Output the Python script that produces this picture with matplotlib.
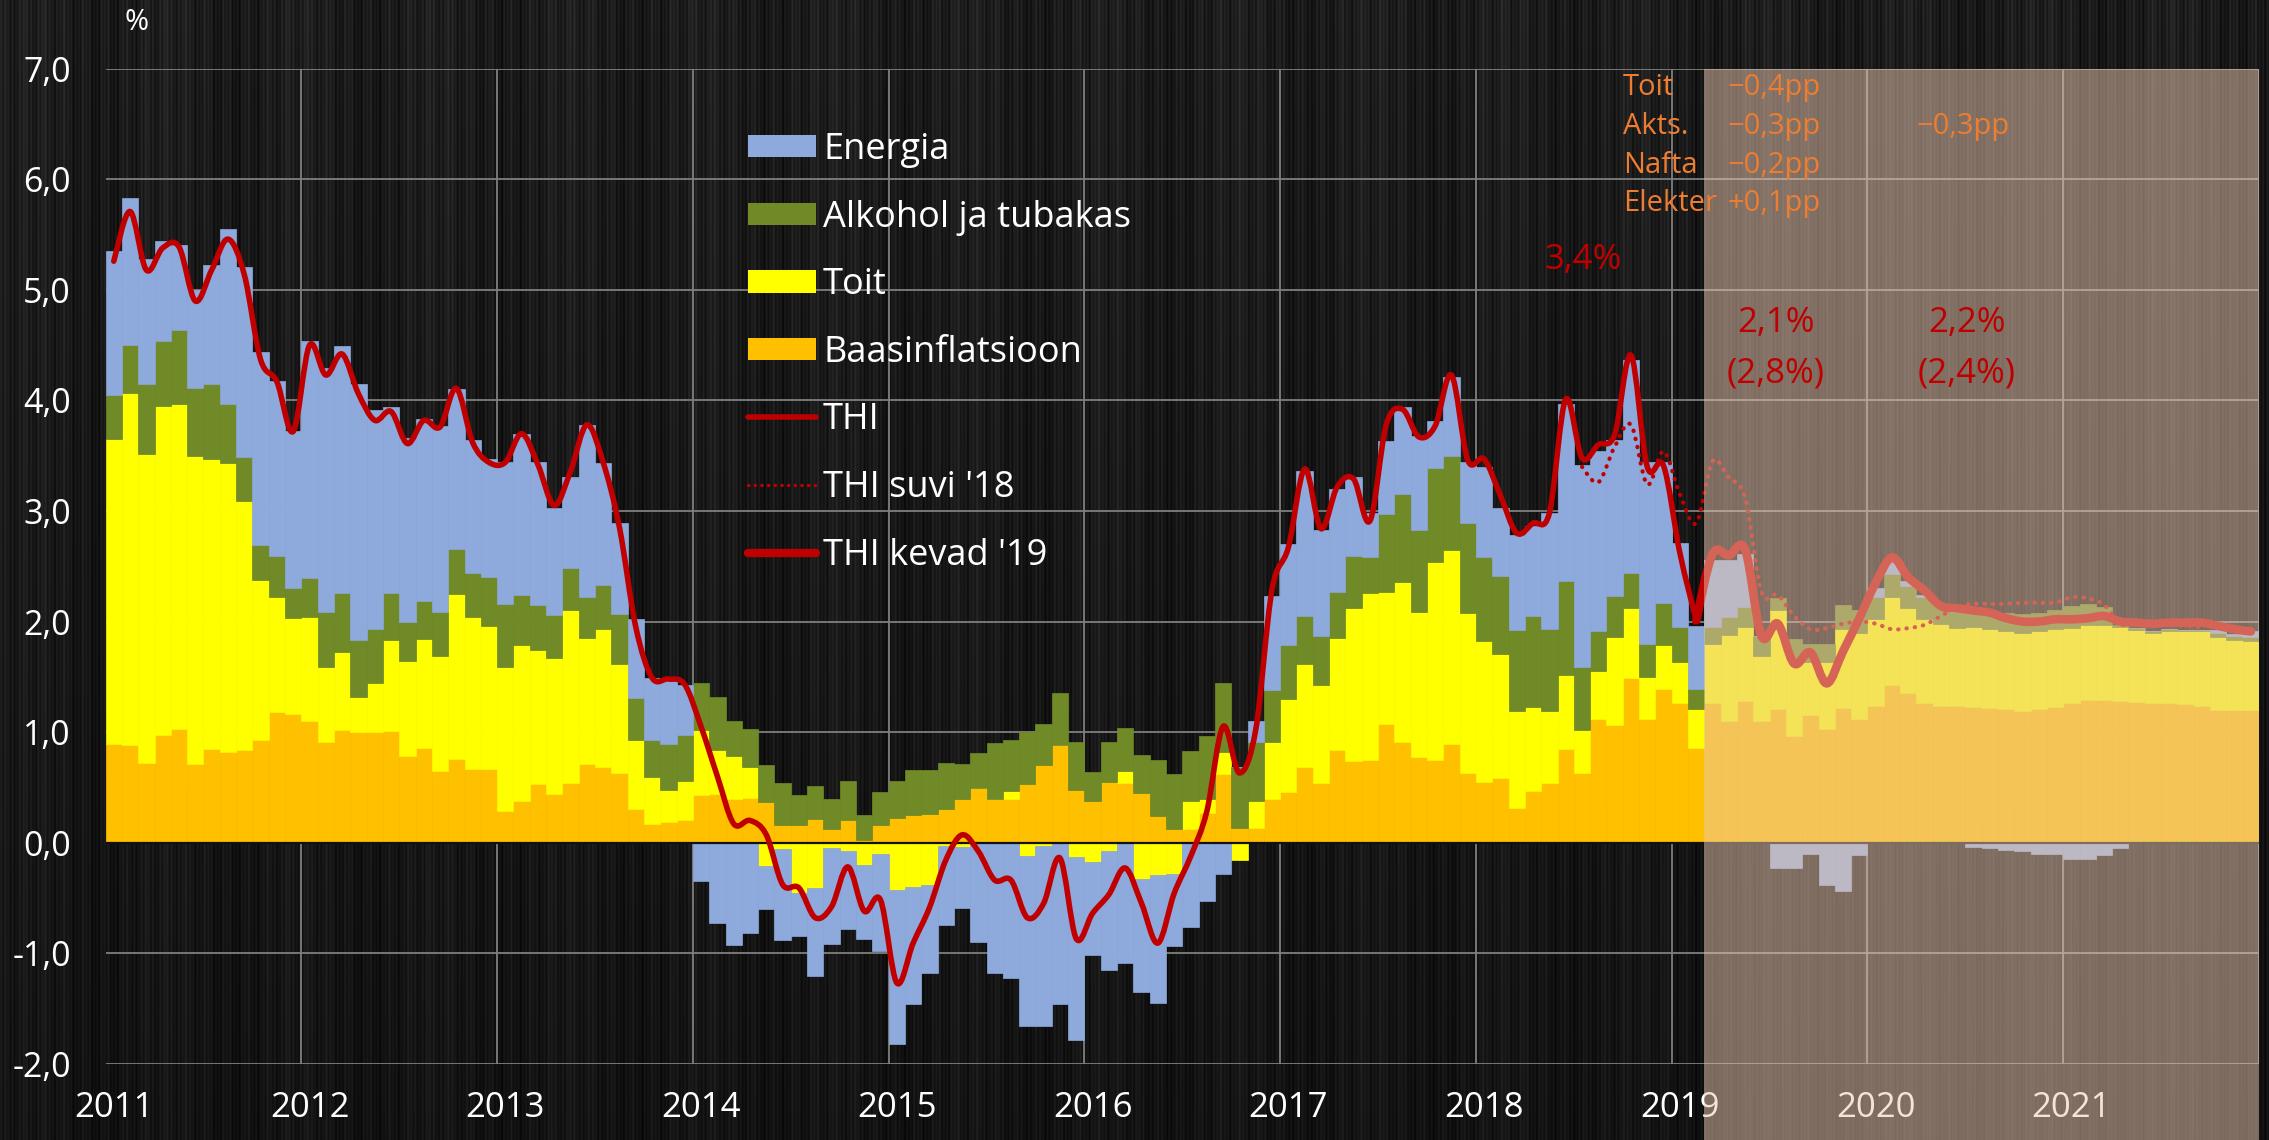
import numpy as np
import matplotlib
matplotlib.use("Agg")
import matplotlib.pyplot as plt
from matplotlib.path import Path
from matplotlib.patches import PathPatch, Patch, Rectangle
from matplotlib.lines import Line2D
from matplotlib import transforms

plt.rcParams['font.family'] = ['Open Sans', 'DejaVu Sans']

# monthly data, Jan 2011 .. Dec 2021 (132 months)
years = ['2011', '2012', '2013', '2014', '2015', '2016', '2017', '2018', '2019', '2020', '2021']
ytick_labels = ['-2,0', '-1,0', '0,0', '1,0', '2,0', '3,0', '4,0', '5,0', '6,0', '7,0']

base = [
    .89, .88, .72, .97, 1.03, .71, .85, .82, .84, .93, 1.18, 1.16,
    1.10, .91, 1.02, 1.00, 1.00, 1.01, .78, .86, .65, .76, .67, .67,
    .29, .38, .53, .44, .54, .71, .68, .63, .30, .17, .19, .20,
    .43, .44, .39, .40, .37, .16, .16, .21, .12, .20, .02, .16,
    .22, .25, .26, .30, .39, .49, .39, .39, .53, .70, .88, .48,
    .38, .55, .54, .45, .24, .12, .12, .27, .62, .13, .13, .39,
    .46, .68, .54, .84, .74, .75, 1.07, .91, .77, .75, .89, .63,
    .55, .58, .31, .47, .54, .85, .63, 1.12, 1.06, 1.49, 1.12, 1.39,
    1.26, .86, 1.26, 1.10, 1.28, 1.10, 1.21, .96, 1.15, 1.03, 1.22, 1.12,
    1.24, 1.43, 1.35, 1.26, 1.24, 1.24, 1.23, 1.22, 1.21, 1.19, 1.21, 1.23,
    1.26, 1.29, 1.29, 1.28, 1.27, 1.26, 1.26, 1.25, 1.24, 1.20, 1.20, 1.20,
]
food = [
    2.76, 3.19, 2.80, 2.98, 2.94, 2.79, 2.62, 2.61, 2.25, 1.45, 1.04, .87,
    .94, .68, .70, .32, .44, .82, .86, .98, 1.04, 1.49, 1.37, 1.29,
    1.30, 1.41, 1.21, 1.23, 1.56, 1.14, 1.25, .99, .63, .42, .29, .36,
    .59, .40, .39, .28, -.21, -.06, -.46, -.41, -.05, -.08, -.20, -.10,
    -.43, -.40, -.38, -.03, -.04, 0, 0, .08, -.12, -.03, 0, -.13,
    -.18, -.08, .11, -.33, -.29, -.28, .26, .12, .20, -.16, .25, .52,
    .84, .94, .89, 1.01, 1.38, 1.51, 1.20, 1.45, 1.32, 1.79, 1.76, 1.45,
    1.27, 1.13, .88, .76, .65, .67, .39, .43, .80, .63, .38, .40,
    .37, .35, .54, .78, .67, .59, .89, .71, .48, .60, .71, .78,
    .78, .79, .77, .76, .74, .70, .72, .71, .70, .71, .70, .70,
    .68, .68, .68, .67, .65, .64, .65, .66, .67, .66, .63, .62,
]
alcohol = [
    .40, .43, .63, .59, .67, .61, .68, .54, .40, .31, .37, .27,
    .35, .50, .54, .51, .49, .43, .36, .35, .40, .41, .40, .44,
    .57, .45, .41, .39, .38, .37, .40, .45, .38, .34, .41, .41,
    .42, .48, .32, .35, .33, .38, .27, .30, .27, .36, .23, .30,
    .34, .41, .40, .42, .32, .32, .51, .46, .47, .37, .47, .43,
    .26, .36, .39, .34, .51, .50, .45, .57, .62, .55, .53, .47,
    .49, .43, .44, .42, .47, .32, .70, .79, .74, .85, .85, .81,
    .76, .70, .73, .82, .74, .85, .57, .36, .37, .32, .30, .38,
    .32, .18, .15, .16, .18, .18, .11, .17, .17, .17, .22, .20,
    .20, .21, .20, .20, .17, .15, .14, .15, .17, .17, .17, .17,
    .20, .19, .16, .02, .02, .01, .02, .01, .01, .04, .04, .04,
]
energy = [
    1.30, 1.33, 1.13, .90, .77, .89, 1.08, 1.58, 1.72, 1.75, 1.59, 1.42,
    2.15, 2.20, 2.23, 2.32, 1.98, 1.68, 1.66, 1.64, 1.68, 1.44, 1.20, 1.07,
    1.28, 1.46, 1.29, .97, .83, 1.56, 1.10, .82, .71, .56, .60, .46,
    -.35, -.73, -.93, -.82, -.39, -.82, -.39, -.80, -.87, -.70, -.67, -.88,
    -1.39, -1.06, -.80, -.72, -.55, -.90, -1.18, -1.23, -1.54, -1.63, -1.46, -1.66,
    -.84, -1.07, -1.09, -1.02, -1.16, -.66, -.76, -.53, -.28, 0, .19, .85,
    .91, 1.31, .96, .93, .72, .40, .66, .79, .85, .42, .71, .55,
    .82, .62, .86, .81, 1.05, 1.60, 1.83, 1.63, 1.41, 1.93, 1.64, 1.27,
    .76, .57, .61, .52, .48, 0, -.23, -.23, -.10, -.38, -.44, -.11,
    .08, .11, .05, .02, 0, 0, -.04, -.05, -.07, -.08, -.10, -.10,
    -.15, -.15, -.11, -.05, 0, 0, 0, 0, 0, .02, .02, .05,
]

# THI actual, Jan 2011 .. Feb 2019
thi = [
    5.26, 5.71, 5.18, 5.38, 5.39, 4.90, 5.18, 5.46, 5.14, 4.37, 4.17, 3.72,
    4.50, 4.23, 4.42, 4.06, 3.82, 3.90, 3.61, 3.82, 3.76, 4.11, 3.62, 3.44,
    3.44, 3.70, 3.42, 3.05, 3.36, 3.78, 3.44, 2.85, 1.95, 1.49, 1.48, 1.43,
    1.05, 0.60, 0.17, 0.20, 0.07, -0.38, -0.41, -0.68, -0.58, -0.22, -0.62, -0.52,
    -1.27, -0.91, -0.59, -0.16, 0.07, -0.08, -0.34, -0.34, -0.68, -0.55, -0.14, -0.87,
    -0.64, -0.47, -0.23, -0.55, -0.91, -0.46, -0.13, 0.28, 1.05, 0.63, 1.02, 2.29,
    2.67, 3.38, 2.84, 3.22, 3.29, 2.91, 3.78, 3.92, 3.67, 3.77, 4.23, 3.46,
    3.47, 3.14, 2.80, 2.89, 2.98, 4.01, 3.48, 3.60, 3.69, 4.41, 3.40, 3.41,
    2.62, 2.01,
]
# spring '19 forecast, Feb 2019 .. Dec 2021
thi_spring19_start = 97
thi_spring19 = [
    2.01, 2.61, 2.60, 2.65, 1.87, 1.98, 1.62, 1.72, 1.44, 1.73, 2.03, 2.35,
    2.58, 2.40, 2.28, 2.14, 2.12, 2.10, 2.08, 2.03, 2.00, 2.00, 2.02, 2.02,
    2.03, 2.05, 2.00, 1.99, 1.98, 1.99, 1.99, 1.99, 1.96, 1.93, 1.91,
]
# summer '18 forecast, Jul 2018 .. Sep 2021
thi_summer18_start = 90
thi_summer18 = [
    3.40, 3.26, 3.58, 3.78, 3.24, 3.54, 3.15, 2.89, 3.45, 3.30, 3.12, 2.27,
    2.24, 2.05, 1.93, 1.94, 1.98, 2.00, 1.98, 1.93, 1.94, 1.97, 2.05, 2.13,
    2.16, 2.16, 2.16, 2.17, 2.17, 2.17, 2.22, 2.21, 2.15, 1.98, 1.97, 1.97,
    1.97, 1.96, 1.95,
]

forecast_start = 98  # Mar 2019

c_energy = '#8EA9DB'
c_alc = '#708A28'
c_food = '#FFFF00'
c_base = '#FFC000'
c_red = '#C00000'
c_orange = '#ED7D31'


def smooth_path(xs, ys):
    pts = np.column_stack([xs, ys]).astype(float)
    n = len(pts)
    verts = [pts[0]]
    codes = [Path.MOVETO]
    for i in range(n - 1):
        p0 = pts[max(i - 1, 0)]
        p1 = pts[i]
        p2 = pts[i + 1]
        p3 = pts[min(i + 2, n - 1)]
        verts += [p1 + (p2 - p0) / 6, p2 - (p3 - p1) / 6, p2]
        codes += [Path.CURVE4] * 3
    return Path(verts, codes)


W, H = 2269, 1140
fig = plt.figure(figsize=(W / 100, H / 100), dpi=100)
fig.patch.set_facecolor('black')

# brushed dark background
bg = fig.add_axes([0, 0, 1, 1], zorder=0)
cols = np.arange(W)
streak = (0.085 + 0.022 * np.sin(cols * 1.7) + 0.016 * np.sin(cols * 0.31 + 0.5)
          + 0.012 * np.sin(cols * 5.3 + 1.1) + 0.01 * np.sin(cols * 0.047))
rows = np.linspace(1.3, 0.9, 60)[:, None]
bg.imshow(streak[None, :] * rows, cmap='gray', vmin=0, vmax=1, aspect='auto',
          interpolation='bilinear')
bg.axis('off')

left, right = 105.6, 2259
top, bottom = 68.9, 1063.6
ax = fig.add_axes([left / W, 1 - bottom / H, (right - left) / W, (bottom - top) / H], zorder=1)
ax.set_facecolor('none')

x = np.arange(len(base))
pos_b = np.zeros(len(x))
neg_b = np.zeros(len(x))
for series, col in [(base, c_base), (food, c_food), (alcohol, c_alc), (energy, c_energy)]:
    v = np.array(series, dtype=float)
    b = np.where(v >= 0, pos_b, neg_b)
    ax.bar(x, v, bottom=b, width=1.0, color=col, edgecolor=col, linewidth=0.5, zorder=2)
    pos_b += np.clip(v, 0, None)
    neg_b += np.clip(v, None, 0)

ax.axhline(0, color='#111111', lw=1.6, zorder=3)

# lines
p = smooth_path(np.arange(len(thi)), thi)
ax.add_patch(PathPatch(p, facecolor='none', edgecolor=c_red, lw=4.0,
                       capstyle='round', joinstyle='round', zorder=4))
xs18 = np.arange(thi_summer18_start, thi_summer18_start + len(thi_summer18))
p = smooth_path(xs18, thi_summer18)
ax.add_patch(PathPatch(p, facecolor='none', edgecolor=c_red, lw=3.0,
                       linestyle=(0, (0.1, 1.9)), capstyle='round', zorder=4))
xs19 = np.arange(thi_spring19_start, thi_spring19_start + len(thi_spring19))
p = smooth_path(xs19, thi_spring19)
ax.add_patch(PathPatch(p, facecolor='none', edgecolor=c_red, lw=6.2,
                       capstyle='round', joinstyle='round', zorder=4))

ax.set_xlim(-0.5, len(base) - 0.5)
ax.set_ylim(-2, 7)
for s in ax.spines.values():
    s.set_visible(False)

ax.set_yticks(range(-2, 8))
ax.set_yticklabels(ytick_labels)
ax.set_xticks([12 * k for k in range(len(years))])
ax.set_xticklabels(years)
ax.set_xticks([12 * k - 0.5 for k in range(1, 12)], minor=True)
ax.tick_params(axis='both', which='both', length=0, labelcolor='white')
ax.tick_params(axis='y', pad=25, labelsize=24.5)
ax.tick_params(axis='x', pad=20, labelsize=25)
ax.set_axisbelow(True)
ax.grid(axis='y', which='major', color='#7F7F7F', lw=1.3)
ax.grid(axis='x', which='minor', color='#7F7F7F', lw=1.3)

# forecast shade, down to the bottom of the figure
tr = transforms.blended_transform_factory(ax.transData, fig.transFigure)
ax.add_patch(Rectangle((forecast_start - 0.5, 0), len(base) - forecast_start, 1 - top / H,
                       transform=tr, facecolor=(235 / 255, 200 / 255, 175 / 255),
                       alpha=0.5, lw=0, zorder=5, clip_on=False))

# annotations
ax.text(90.06, 5.27, '3,4%', color=c_red, fontsize=25, ha='center', va='center', zorder=6)
ax.text(101.9, 4.70, '2,1%', color=c_red, fontsize=25, ha='center', va='center', zorder=6)
ax.text(101.9, 4.24, '(2,8%)', color=c_red, fontsize=25, ha='center', va='center', zorder=6)
ax.text(113.6, 4.70, '2,2%', color=c_red, fontsize=25, ha='center', va='center', zorder=6)
ax.text(113.6, 4.24, '(2,4%)', color=c_red, fontsize=25, ha='center', va='center', zorder=6)

notes = ['Toit', 'Akts.', 'Nafta', 'Elekter']
note_vals = ['\u22120,4pp', '\u22120,3pp', '\u22120,2pp', '+0,1pp']
note_y = [6.83, 6.48, 6.13, 5.78]
for lab, val, yy in zip(notes, note_vals, note_y):
    ax.text(92.5, yy, lab, color=c_orange, fontsize=21, ha='left', va='center', zorder=6)
    ax.text(98.95, yy, val, color=c_orange, fontsize=21, ha='left', va='center', zorder=6)
ax.text(110.5, 6.48, '\u22120,3pp', color=c_orange, fontsize=21, ha='left', va='center', zorder=6)

fig.text(137 / W, 1 - 23 / H, '%', color='white', fontsize=21, ha='center', va='center')

handles = [
    Patch(facecolor=c_energy, edgecolor='none'),
    Patch(facecolor=c_alc, edgecolor='none'),
    Patch(facecolor=c_food, edgecolor='none'),
    Patch(facecolor=c_base, edgecolor='none'),
    Line2D([], [], color=c_red, lw=4.0, solid_capstyle='round'),
    Line2D([], [], color=c_red, lw=2.4, linestyle=(0, (0.1, 1.9)), dash_capstyle='round'),
    Line2D([], [], color=c_red, lw=6.0, solid_capstyle='round'),
]
labels = ['Energia', 'Alkohol ja tubakas', 'Toit', 'Baasinflatsioon', 'THI', "THI suvi '18", "THI kevad '19"]
leg = ax.legend(handles, labels, loc='upper left', bbox_to_anchor=(748 / W, 1 - 132 / H),
                bbox_transform=fig.transFigure, frameon=False, fontsize=26, labelcolor='white',
                handlelength=1.88, handleheight=0.58, handletextpad=0.2, labelspacing=0.875,
                borderpad=0, borderaxespad=0)
leg.set_zorder(7)

fig.savefig('out.png', dpi=100, facecolor='black')
